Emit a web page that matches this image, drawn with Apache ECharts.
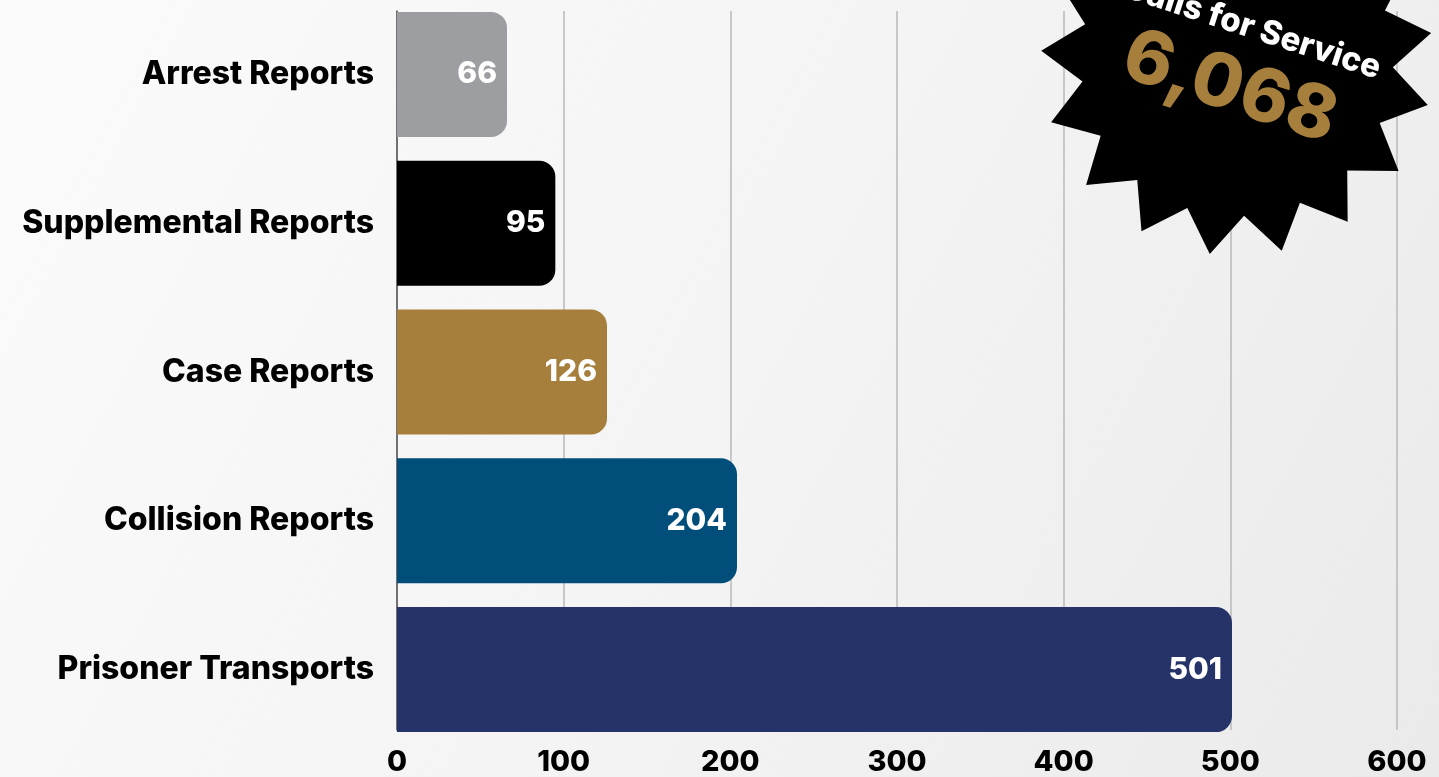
<!DOCTYPE html>
<html>
<head>
<meta charset="utf-8">
<script src="https://cdn.jsdelivr.net/npm/echarts@6/dist/echarts.min.js"></script>
<style>
  html, body { margin: 0; padding: 0; }
  #chart { width: 1439px; height: 777px; }
</style>
</head>
<body>
<div id="chart"></div>
<script>
// chart data
const categories = ["Arrest Reports", "Supplemental Reports", "Case Reports", "Collision Reports", "Prisoner Transports"];
const reportCounts = [66, 95, 126, 204, 501];
const axisMax = 600;
const axisStep = 100;
const badgeTitle = "Calls for Service";
const badgeValue = "6,068";

const barColors = ["#9d9ea2", "#000000", "#a67f3d", "#024e7a", "#263369"];
const fontFamily = "Inter, 'Open Sans', sans-serif";

const chart = echarts.init(document.getElementById("chart"));

// starburst badge outline (decoration)
function starPoints(cx, cy, rOuter, rInner, count, startDeg) {
    const pts = [];
    for (let i = 0; i < count * 2; i++) {
        const r = i % 2 === 0 ? rOuter : rInner;
        const a = (startDeg + i * 180 / count) * Math.PI / 180;
        pts.push([cx + r * Math.cos(a), cy + r * Math.sin(a)]);
    }
    return pts;
}
const tilt = -18 * Math.PI / 180;

const option = {
    backgroundColor: {
        type: "linear", x: 0, y: 0, x2: 1, y2: 1,
        colorStops: [
            { offset: 0, color: "#fbfbfb" },
            { offset: 0.5, color: "#f4f4f4" },
            { offset: 1, color: "#eaeaea" }
        ]
    },
    textStyle: { fontFamily },
    grid: [
        { left: 397, right: 42, top: -1, height: 745 },
        { left: 397, right: 42, top: 11, height: 721 }
    ],
    xAxis: [
        { gridIndex: 0, type: "value", min: 0, max: axisMax, interval: axisStep, show: false },
        {
            gridIndex: 1, type: "value", min: 0, max: axisMax, interval: axisStep,
            axisLine: { show: false },
            axisTick: { show: false },
            splitLine: { show: true, lineStyle: { color: "#b8b8b8", width: 1.5 } },
            axisLabel: { color: "#000", fontSize: 29, fontWeight: 800, margin: 18, fontFamily }
        }
    ],
    yAxis: [
        {
            gridIndex: 0, type: "category", data: categories, inverse: true,
            axisLine: { show: false },
            axisTick: { show: false },
            axisLabel: { color: "#000", fontSize: 32, fontWeight: 800, margin: 23, fontFamily }
        },
        {
            gridIndex: 1, type: "value", min: 0, max: 1,
            axisLine: { show: true, lineStyle: { color: "#555", width: 1.5 } },
            axisTick: { show: false },
            axisLabel: { show: false },
            splitLine: { show: false }
        }
    ],
    series: [
        {
            type: "bar",
            xAxisIndex: 0,
            yAxisIndex: 0,
            barWidth: 125,
            z: 5,
            data: reportCounts.map((v, i) => ({ value: v, itemStyle: { color: barColors[i] } })),
            itemStyle: { borderRadius: [0, 16, 16, 0] },
            label: {
                show: true,
                position: "insideRight",
                distance: 10,
                color: "#fff",
                fontSize: 30,
                fontWeight: 800,
                fontFamily
            }
        }
    ],
    graphic: [
        {
            type: "polygon",
            z: 100,
            shape: { points: starPoints(1237, 60, 196, 156, 17, -7.9) },
            style: { fill: "#000" }
        },
        {
            type: "text",
            z: 101,
            x: 1252, y: 28,
            rotation: tilt,
            style: {
                text: badgeTitle,
                fill: "#fff",
                font: "800 33px Inter, sans-serif",
                align: "center",
                verticalAlign: "middle"
            }
        },
        {
            type: "text",
            z: 101,
            x: 1230, y: 88,
            rotation: tilt,
            style: {
                text: badgeValue,
                fill: "#a67f3d",
                font: "800 74px Inter, sans-serif",
                align: "center",
                verticalAlign: "middle"
            }
        }
    ]
};

chart.setOption(option);
</script>
</body>
</html>
